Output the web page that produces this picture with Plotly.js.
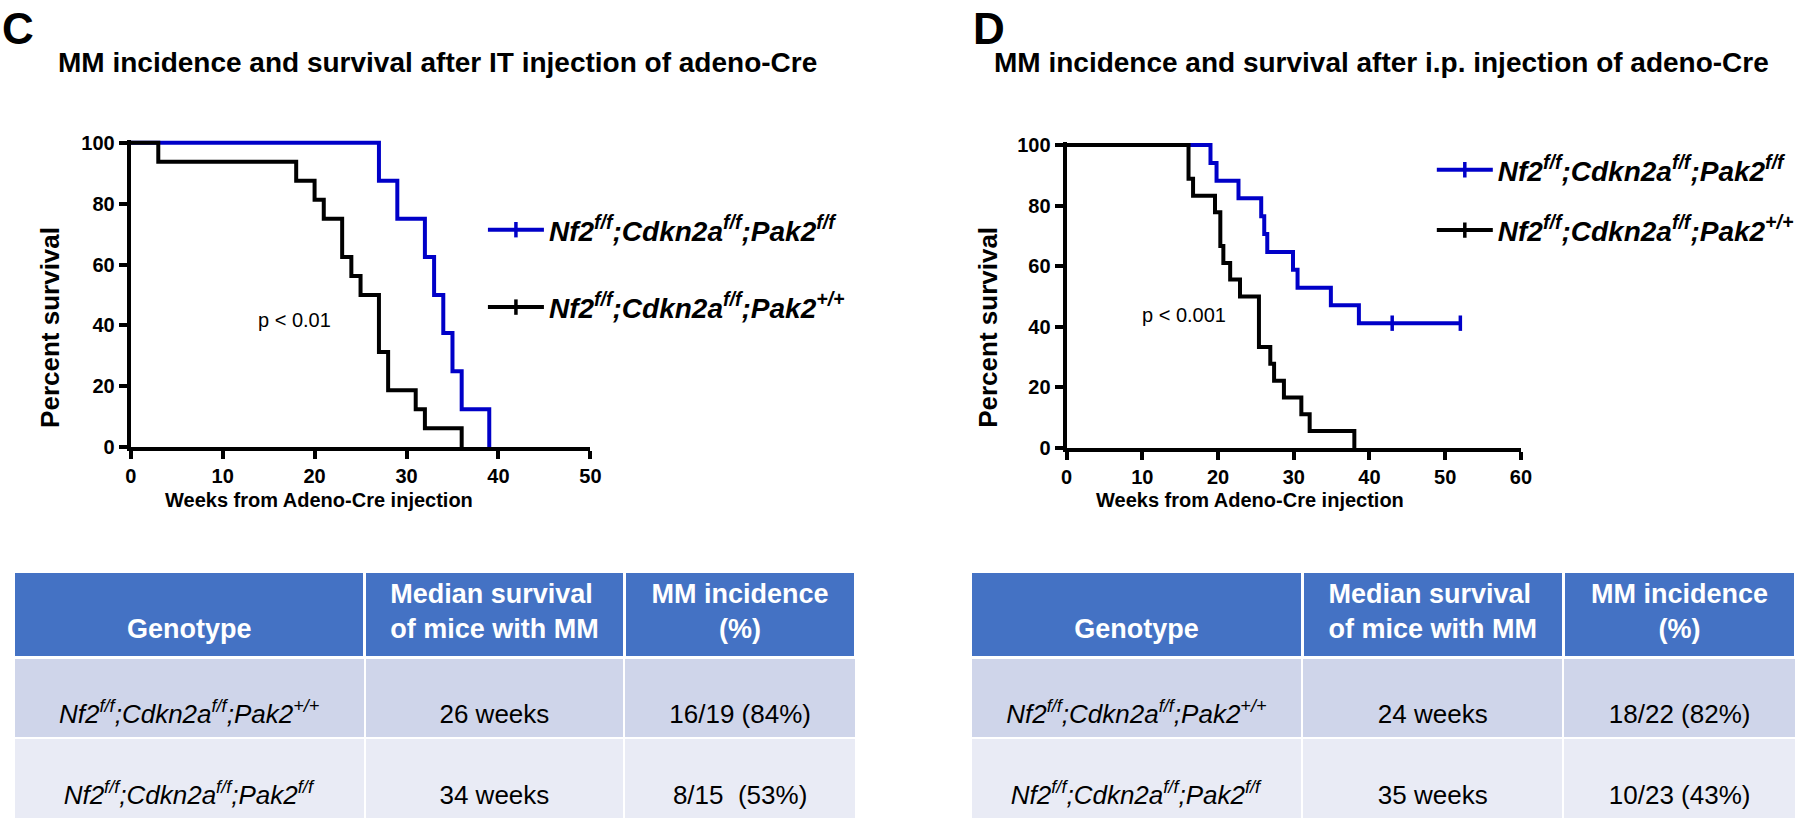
<!DOCTYPE html>
<html>
<head>
<meta charset="utf-8">
<script src="https://cdn.plot.ly/plotly-3.0.1.min.js"></script>
<style>
  html, body { margin: 0; padding: 0; background: #ffffff; }
  #chart { width: 1800px; height: 820px; }
</style>
</head>
<body>
<div id="chart"></div>
<script>
// ---------------- DATA ----------------
// Panel C: intrathoracic (IT) injection
const cBlueWeeks  = [0, 27, 29, 32, 33, 34, 35, 36, 39];
const cBlueSurv   = [100, 87.5, 75, 62.5, 50, 37.5, 25, 12.5, 0];
const cBlackWeeks = [0, 3, 18, 20, 21, 23, 24, 25, 27, 28, 31, 32, 36];
const cBlackSurv  = [100, 93.75, 87.5, 81.25, 75, 62.5, 56.25, 50, 31.25, 18.75, 12.5, 6.25, 0];

// Panel D: intraperitoneal (i.p.) injection
const dBlueWeeks  = [0, 19.0, 19.8, 22.7, 25.7, 26.1, 26.5, 29.9, 30.5, 34.9, 38.6, 43, 52];
const dBlueSurv   = [100, 94.1, 88.2, 82.4, 76.5, 70.6, 64.7, 58.8, 52.9, 47.1, 41.2, 41.2, 41.2];
const dBlueCensoredWeeks = [43, 52];
const dBlueCensoredSurv  = [41.2, 41.2];
const dBlackWeeks = [0, 16.1, 16.7, 19.6, 20.3, 20.7, 21.6, 22.9, 25.4, 26.9, 27.4, 28.7, 31.0, 32.1, 38.0];
const dBlackSurv  = [100, 88.9, 83.3, 77.8, 66.7, 61.1, 55.6, 50.0, 33.3, 27.8, 22.2, 16.7, 11.1, 5.6, 0];

const seriesNames = [
  '<b><i>Nf2<sup>f/f</sup>;Cdkn2a<sup>f/f</sup>;Pak2<sup>f/f</sup></i></b>',
  '<b><i>Nf2<sup>f/f</sup>;Cdkn2a<sup>f/f</sup>;Pak2<sup>+/+</sup></i></b>'
];
const xTicksC = [0, 10, 20, 30, 40, 50];
const xTicksD = [0, 10, 20, 30, 40, 50, 60];
const yTicks  = [0, 20, 40, 60, 80, 100];

const titleC = 'MM incidence and survival after IT injection of adeno-Cre';
const titleD = 'MM incidence and survival after i.p. injection of adeno-Cre';
const xTitle = 'Weeks from Adeno-Cre injection';
const yTitle = 'Percent survival';
const pC = 'p &lt; 0.01';
const pD = 'p &lt; 0.001';

// Tables
const tableHeader = ['Genotype', 'Median survival<br>of mice with MM', 'MM incidence<br>(%)'];
const genotypes = [
  '<i>Nf2<sup>f/f</sup>;Cdkn2a<sup>f/f</sup>;Pak2<sup>+/+</sup></i>',
  '<i>Nf2<sup>f/f</sup>;Cdkn2a<sup>f/f</sup>;Pak2<sup>f/f</sup></i>'
];
const cMedian = ['26 weeks', '34 weeks'];
const cIncidence = ['16/19 (84%)', '8/15\u00a0 (53%)'];
const dMedian = ['24 weeks', '35 weeks'];
const dIncidence = ['18/22 (82%)', '10/23 (43%)'];

// ---------------- STYLE ----------------
const W = 1800, H = 820;
const px = v => v / W;
const py = v => 1 - v / H;
const BLUE = '#0000c8';
const FONT = 'Liberation Sans, Arial, sans-serif';
const lineW = 4;
const NB = '\u00a0';

function curve(x, y, color, xa, ya) {
  return { type: 'scatter', mode: 'lines', x: x, y: y, xaxis: xa, yaxis: ya,
           line: { color: color, width: lineW, shape: 'hv' }, showlegend: false, hoverinfo: 'skip' };
}
function censor(x, y, color, xa, ya) {
  return { type: 'scatter', mode: 'markers', x: x, y: y, xaxis: xa, yaxis: ya, cliponaxis: false,
           marker: { symbol: 'line-ns-open', size: 11, color: color, line: { color: color, width: 3.5 } },
           showlegend: false, hoverinfo: 'skip' };
}
function legendItem(name, color, legend, group) {
  return { type: 'scatter', mode: 'lines+markers', x: [null], y: [null], name: name,
           legend: legend, legendgroup: group, xaxis: legend === 'legend' ? 'x' : 'x2', yaxis: legend === 'legend' ? 'y' : 'y2',
           line: { color: color, width: lineW },
           marker: { symbol: 'line-ns-open', size: 11, color: color, line: { color: color, width: 3.5 } } };
}

const data = [
  curve(cBlueWeeks, cBlueSurv, BLUE, 'x', 'y'),
  curve(cBlackWeeks, cBlackSurv, '#000000', 'x', 'y'),
  curve(dBlueWeeks, dBlueSurv, BLUE, 'x2', 'y2'),
  censor(dBlueCensoredWeeks, dBlueCensoredSurv, BLUE, 'x2', 'y2'),
  curve(dBlackWeeks, dBlackSurv, '#000000', 'x2', 'y2'),
  legendItem(seriesNames[0], BLUE, 'legend', 'a'),
  legendItem(seriesNames[1], '#000000', 'legend', 'b'),
  legendItem(seriesNames[0], BLUE, 'legend2', 'c'),
  legendItem(seriesNames[1], '#000000', 'legend2', 'd')
];

// table text is top-aligned in Plotly: push single-line text down one line to centre it
const lower = arr => arr.map(s => NB + '<br>' + s);
const headerText = [NB + '<br>' + tableHeader[0], tableHeader[1],
                    tableHeader[2].replace('<br>', '<br>' + NB.repeat(9))];

function makeTable(domX, colW, median, incidence) {
  return {
    type: 'table',
    domain: { x: domX, y: [py(819), py(571)] },
    columnwidth: colW,
    header: {
      values: headerText,
      align: 'center',
      height: 86,
      fill: { color: '#4472C4' },
      line: { color: '#ffffff', width: 3 },
      font: { family: FONT, size: 27, color: '#ffffff', weight: 'bold' }
    },
    cells: {
      values: [lower(genotypes), lower(median), lower(incidence)],
      align: 'center',
      height: 81,
      fill: { color: [['#CFD5EA', '#E9EBF5'], ['#CFD5EA', '#E9EBF5'], ['#CFD5EA', '#E9EBF5']] },
      line: { color: '#ffffff', width: 2 },
      font: { family: FONT, size: 26, color: '#000000' }
    }
  };
}
data.push(makeTable([px(14), px(858)], [351, 260, 232], cMedian, cIncidence));
data.push(makeTable([px(973), px(1800)], [332, 262, 233], dMedian, dIncidence));

function axisBase(extra) {
  return Object.assign({
    showline: true, linecolor: '#000', linewidth: lineW,
    ticks: 'outside', ticklen: 8, tickwidth: lineW, tickcolor: '#000',
    showgrid: false, zeroline: false, fixedrange: true,
    tickfont: { family: FONT, size: 20, color: '#000', weight: 'bold' },
    tickmode: 'array'
  }, extra);
}

const titleFontX = { family: FONT, size: 20, color: '#000' };
const titleFontY = { family: FONT, size: 26, color: '#000' };

const layout = {
  width: W, height: H,
  margin: { l: 0, r: 0, t: 0, b: 0 },
  paper_bgcolor: '#ffffff', plot_bgcolor: '#ffffff',
  showlegend: true,
  xaxis: axisBase({ domain: [px(131), px(591.7)], range: [0, 50], tickvals: xTicksC, anchor: 'y' }),
  yaxis: axisBase({ domain: [py(447.3), py(139.6)], range: [0, 101], tickvals: yTicks, anchor: 'x' }),
  xaxis2: axisBase({ domain: [px(1069), px(1524.3)], range: [0, 60], tickvals: xTicksD, anchor: 'y2' }),
  yaxis2: axisBase({ domain: [py(448), py(142)], range: [0, 101], tickvals: yTicks, anchor: 'x2' }),
  legend: {
    x: px(484), y: py(205), xanchor: 'left', yanchor: 'top',
    bgcolor: 'rgba(0,0,0,0)', borderwidth: 0, tracegroupgap: 38, itemwidth: 56,
    font: { family: FONT, size: 28, color: '#000' }, itemclick: false, itemdoubleclick: false
  },
  legend2: {
    x: px(1435), y: py(145), xanchor: 'left', yanchor: 'top',
    bgcolor: 'rgba(0,0,0,0)', borderwidth: 0, tracegroupgap: 21, itemwidth: 56,
    font: { family: FONT, size: 28, color: '#000' }, itemclick: false, itemdoubleclick: false
  },
  annotations: [
    { text: '<b>C</b>', x: px(0), y: py(2), xref: 'paper', yref: 'paper', xanchor: 'left', yanchor: 'top', showarrow: false,
      font: { family: FONT, size: 44, color: '#000' } },
    { text: '<b>D</b>', x: px(973), y: py(2), xref: 'paper', yref: 'paper', xanchor: 'left', yanchor: 'top', showarrow: false,
      font: { family: FONT, size: 44, color: '#000' } },
    { text: '<b>' + titleC + '</b>', x: px(438), y: py(63), xref: 'paper', yref: 'paper', xanchor: 'center', yanchor: 'middle', showarrow: false,
      font: { family: FONT, size: 28, color: '#000' } },
    { text: '<b>' + titleD + '</b>', x: px(1385), y: py(63), xref: 'paper', yref: 'paper', xanchor: 'center', yanchor: 'middle', showarrow: false,
      font: { family: FONT, size: 28, color: '#000' } },
    { text: pC, x: px(295), y: py(320), xref: 'paper', yref: 'paper', xanchor: 'center', yanchor: 'middle', showarrow: false,
      font: { family: FONT, size: 20, color: '#000' } },
    { text: pD, x: px(1187), y: py(315), xref: 'paper', yref: 'paper', xanchor: 'center', yanchor: 'middle', showarrow: false,
      font: { family: FONT, size: 20, color: '#000' } },
    // axis titles
    { text: '<b>' + xTitle + '</b>', x: px(320), y: py(500), xref: 'paper', yref: 'paper', xanchor: 'center', yanchor: 'middle', showarrow: false,
      font: titleFontX },
    { text: '<b>' + xTitle + '</b>', x: px(1253), y: py(500), xref: 'paper', yref: 'paper', xanchor: 'center', yanchor: 'middle', showarrow: false,
      font: titleFontX },
    { text: '<b>' + yTitle + '</b>', x: px(50), y: py(327), xref: 'paper', yref: 'paper', xanchor: 'center', yanchor: 'middle', showarrow: false,
      textangle: -90, font: titleFontY },
    { text: '<b>' + yTitle + '</b>', x: px(990), y: py(327), xref: 'paper', yref: 'paper', xanchor: 'center', yanchor: 'middle', showarrow: false,
      textangle: -90, font: titleFontY }
  ]
};

Plotly.newPlot('chart', data, layout, { displayModeBar: false, staticPlot: true });
</script>
</body>
</html>
